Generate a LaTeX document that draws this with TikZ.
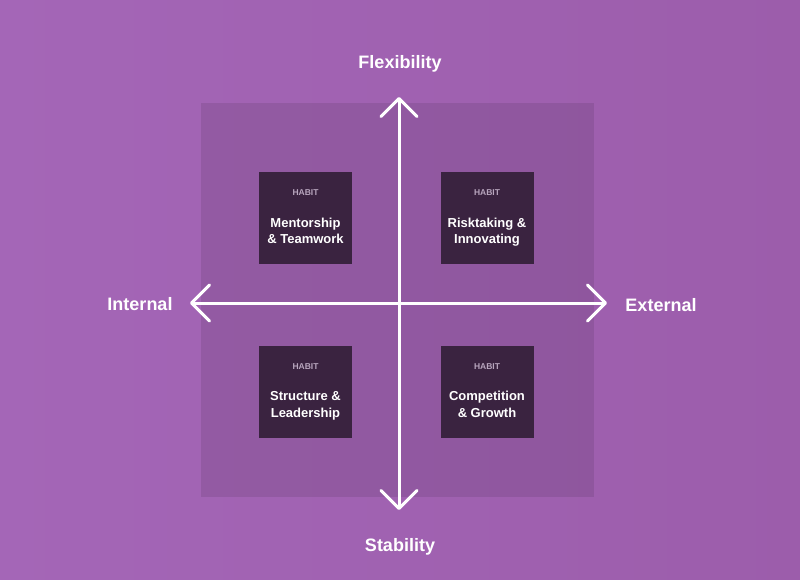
\documentclass[tikz,border=0pt]{standalone}
\usepackage{fontspec}
\setmainfont{Liberation Sans}
\usetikzlibrary{arrows.meta}

\definecolor{bgleft}{HTML}{A466B7}
\definecolor{bgright}{HTML}{9C5DAB}
\definecolor{habitdark}{HTML}{3A2340}
\definecolor{habitgrey}{HTML}{B8A6BE}

\tikzset{
  habitbox/.style={fill=habitdark,minimum width=93pt,minimum height=92pt,inner sep=0pt},
  habittag/.style={text=habitgrey,font=\bfseries\fontsize{8.5}{9}\selectfont},
  habittext/.style={text=white,align=center,text height=26pt,text depth=0pt,
    font=\bfseries\fontsize{13}{16.5}\selectfont},
  axislabel/.style={text=white,font=\bfseries\fontsize{18}{20}\selectfont},
  axis/.style={white,line width=3pt,{Straight Barb[length=18pt,width=36pt,round]}-{Straight Barb[length=18pt,width=36pt,round]}}
}

% one habit box: name, x, y, text
\newcommand{\habit}[4]{
  \node[habitbox] (#1) at (#2,#3) {};
  \node[habittag] (#1tag) at ([yshift=-21pt]#1.north) {HABIT};
  \node[habittext] (#1txt) at ([yshift=-12.5pt]#1.center) {#4};
}

\begin{document}
\begin{tikzpicture}[x=1pt,y=-1pt]
  \shade[left color=bgleft,right color=bgright] (0,0) rectangle (800,580);
  \useasboundingbox (0,0) rectangle (800,580);
  \fill[black,opacity=0.09] (201,103) rectangle (594,497);

  % axes
  \coordinate (top) at (399,97);
  \coordinate (bottom) at (399,510);
  \coordinate (left) at (190,303);
  \coordinate (right) at (607,303);
  \draw[axis] (bottom) -- (top);
  \draw[axis] (left) -- (right);

  \node[axislabel] (flex) at (400,64) {Flexibility};
  \node[axislabel] (stab) at (400,547) {Stability};
  \node[axislabel] (int) at (140,304) {Internal};
  \node[axislabel] (ext) at (661,305) {External};

  % quadrants
  \habit{mentor}{305.5}{218}{Mentorship\\\& Teamwork}
  \habit{risk}{487}{218}{Risktaking \&\\Innovating}
  \habit{struct}{305.5}{391.5}{Structure \&\\Leadership}
  \habit{comp}{487}{391.5}{Competition\\\& Growth}
\end{tikzpicture}
\end{document}
